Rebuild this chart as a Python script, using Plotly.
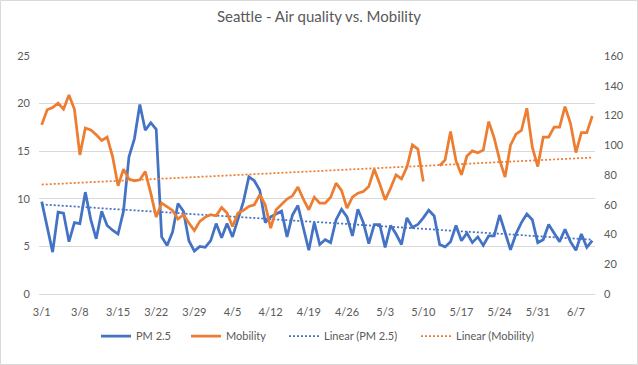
import numpy as np
import pandas as pd
import plotly.graph_objects as go

start_date = "2020-03-01"
pm25 = [9.7, 7.0, 4.4, 8.6, 8.5, 5.5, 7.5, 7.4, 10.7, 7.8,
        5.8, 8.7, 7.2, 6.7, 6.3, 8.7, 14.4, 16.3, 19.9, 17.2,
        18.0, 17.3, 6.0, 5.1, 6.5, 9.5, 8.7, 5.6, 4.5, 5.0,
        4.9, 5.6, 7.4, 5.9, 7.4, 6.0, 7.8, 9.7, 12.3, 11.9,
        10.9, 7.5, 8.1, 8.4, 8.7, 6.0, 8.3, 9.3, 6.8, 4.6,
        7.5, 5.2, 5.7, 5.4, 7.8, 8.9, 8.1, 6.1, 8.9, 7.5,
        5.3, 7.3, 7.3, 4.9, 7.2, 6.3, 5.2, 8.0, 7.0, 7.3,
        8.0, 8.8, 8.2, 5.2, 4.95, 5.5, 7.2, 5.6, 6.4, 5.4,
        6.0, 5.1, 6.1, 6.1, 8.3, 6.4, 4.65, 6.3, 7.5, 8.4,
        7.8, 5.4, 5.7, 7.3, 6.4, 5.5, 6.8, 5.5, 4.6, 6.3,
        4.9, 5.6]
mobility = [113.7, 123.8, 125.3, 128.3, 124.2, 133.8, 124.2, 93.5, 111.5, 110.3,
            107.0, 103.2, 105.4, 92.4, 72.7, 83.9, 77.2, 76.1, 76.8, 82.3,
            67.8, 51.7, 61.1, 58.9, 56.2, 50.4, 53.3, 47.7, 42.7, 48.8,
            51.7, 53.3, 52.6, 58.2, 54.4, 45.4, 54.4, 56.2, 58.9, 60.0,
            66.7, 60.0, 44.3, 56.6, 60.0, 63.8, 66.0, 71.9, 63.8, 56.6,
            65.1, 61.1, 61.1, 65.1, 74.5, 69.6, 57.7, 65.1, 67.8, 68.9,
            72.3, 83.9, 74.1, 63.3, 71.2, 80.1, 77.4, 85.3, 100.3, 97.4,
            75.6, None, None, 86.2, 90.2, 109.2, 89.5, 80.1, 92.7, 96.2,
            95.0, 96.7, 115.9, 105.0, 90.2, 78.6, 100.0, 107.5, 109.9, 124.9,
            98.7, 85.7, 105.4, 105.4, 112.2, 112.2, 126.0, 114.8, 95.1, 108.5,
            108.5, 119.7]

dates = pd.date_range(start_date, periods=len(pm25), freq="D")
idx = np.arange(len(pm25))

def trend(vals):
    v = np.array([np.nan if x is None else x for x in vals], dtype=float)
    m = ~np.isnan(v)
    a, b = np.polyfit(idx[m], v[m], 1)
    return a * idx + b

BLUE = "#4472C4"
ORANGE = "#ED7D31"
GRAY = "#595959"

W, H = 638, 365
ml, mr, mt, mb = 39, 43, 56, 71
pw, ph = W - ml - mr, H - mt - mb

# legend entry left positions (px) of the line samples
leg_px = [96, 186, 284, 416]
leg_names = ["legend", "legend2", "legend3", "legend4"]

fig = go.Figure()
fig.add_trace(go.Scatter(x=dates, y=pm25, name="PM 2.5", mode="lines",
                         line=dict(color=BLUE, width=2.75), legend="legend"))
fig.add_trace(go.Scatter(x=dates, y=mobility, name="Mobility", mode="lines",
                         line=dict(color=ORANGE, width=2.75), yaxis="y2", legend="legend2"))
fig.add_trace(go.Scatter(x=dates, y=trend(pm25), name="Linear (PM 2.5)", mode="lines",
                         line=dict(color=BLUE, width=1.75, dash="2px,2px"), legend="legend3"))
fig.add_trace(go.Scatter(x=dates, y=trend(mobility), name="Linear (Mobility)", mode="lines",
                         line=dict(color=ORANGE, width=1.75, dash="2px,2px"), yaxis="y2",
                         legend="legend4"))

legends = {}
for name, px in zip(leg_names, leg_px):
    legends[name] = dict(orientation="h", x=(px - ml) / pw, xanchor="left",
                         y=-(336 - (mt + ph)) / ph, yanchor="middle",
                         font=dict(size=11, color=GRAY), itemwidth=30,
                         bgcolor="rgba(0,0,0,0)")

fig.update_layout(
    width=W, height=H,
    margin=dict(l=ml, r=mr, t=mt, b=mb),
    paper_bgcolor="white", plot_bgcolor="white",
    font=dict(family="Lato, Open Sans, sans-serif", size=11, color=GRAY),
    title=dict(text="Seattle - Air quality vs. Mobility", x=0.5, xanchor="center",
               y=1 - 17 / H, yanchor="middle", yref="container",
               font=dict(size=15, color=GRAY)),
    showlegend=True,
    xaxis=dict(type="date",
               range=[dates[0] - pd.Timedelta(hours=12), dates[-1] + pd.Timedelta(hours=12)],
               tick0=start_date, dtick=7 * 86400000, tickformat="%-m/%-d",
               showgrid=False, showline=True, linecolor="#D9D9D9", linewidth=1,
               ticks="", ticklabelstandoff=8, tickfont=dict(size=11, color=GRAY), zeroline=False),
    yaxis=dict(range=[0, 25], dtick=5, showgrid=True, gridcolor="#D9D9D9", gridwidth=1,
               zeroline=False, ticks="", ticklabelstandoff=8, tickfont=dict(size=11, color=GRAY)),
    yaxis2=dict(range=[0, 160], dtick=20, overlaying="y", side="right", showgrid=False,
                zeroline=False, ticks="", ticklabelstandoff=8, tickfont=dict(size=11, color=GRAY)),
    shapes=[dict(type="rect", xref="paper", yref="paper",
                 x0=(0.5 - ml) / pw, x1=(W - 0.5 - ml) / pw,
                 y0=(mt + ph - (H - 0.5)) / ph, y1=(mt + ph - 0.5) / ph,
                 line=dict(color="#D9D9D9", width=1), layer="below")],
    **legends,
)

fig.write_html("out.html", config={"displayModeBar": False},
               post_script="document.body.style.margin='0';")
